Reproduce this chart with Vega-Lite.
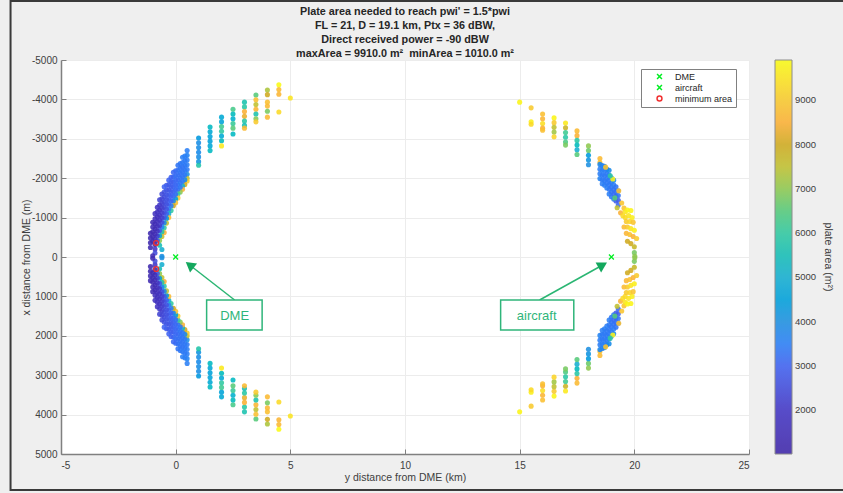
{"$schema":"https://vega.github.io/schema/vega-lite/v6.json","width":688,"height":394,"autosize":"none","padding":{"left":61,"top":60,"right":94,"bottom":39},"background":"#efefef",
"config":{"font":"Liberation Sans","view":{"fill":"white","stroke":null}},
"title":{"text":["Plate area needed to reach pwi' = 1.5*pwi","FL = 21, D = 19.1 km, Ptx = 36 dBW,"," Direct received power = -90 dBW","maxArea = 9910.0 m²\u00a0\u00a0minArea = 1010.0 m²"],"fontSize":10.8,"fontWeight":"bold","color":"#262626","lineHeight":14,"anchor":"middle","offset":-59,"font":"Liberation Sans"},
"datasets":{
"cloud":[
{"x":1,"y":-3020,"a":4200},{"x":1,"y":-2900,"a":3900},{"x":1,"y":-2780,"a":3900},{"x":1,"y":-2660,"a":3800},{"x":1,"y":-2540,"a":3900},{"x":1,"y":-2420,"a":4100},{"x":1,"y":-2330,"a":5800},
{"x":1.5,"y":-3300,"a":5300},{"x":1.5,"y":-3180,"a":4800},{"x":1.5,"y":-3060,"a":4600},{"x":1.5,"y":-2940,"a":4500},{"x":1.5,"y":-2820,"a":4700},{"x":1.5,"y":-2700,"a":5300},
{"x":2,"y":-3550,"a":4800},{"x":2,"y":-3430,"a":4600},{"x":2,"y":-3310,"a":6200},{"x":2,"y":-3190,"a":6000},{"x":2,"y":-3070,"a":4800},{"x":2,"y":-2950,"a":5400},{"x":2,"y":-2820,"a":9600},
{"x":2.5,"y":-3750,"a":6300},{"x":2.5,"y":-3630,"a":5400},{"x":2.5,"y":-3510,"a":5100},{"x":2.5,"y":-3390,"a":6100},{"x":2.5,"y":-3270,"a":6500},{"x":2.5,"y":-3120,"a":5300},
{"x":3,"y":-3930,"a":5700},{"x":3,"y":-3810,"a":5900},{"x":3,"y":-3690,"a":8500},{"x":3,"y":-3570,"a":8300},{"x":3,"y":-3450,"a":5900},{"x":3,"y":-3340,"a":5500},{"x":3,"y":-3270,"a":8700},
{"x":3.5,"y":-4110,"a":6500},{"x":3.5,"y":-3990,"a":8800},{"x":3.5,"y":-3870,"a":7500},{"x":3.5,"y":-3750,"a":8600},{"x":3.5,"y":-3630,"a":5700},{"x":3.5,"y":-3510,"a":6900},{"x":3.5,"y":-3430,"a":9000},
{"x":4,"y":-4240,"a":7300},{"x":4,"y":-4120,"a":8000},{"x":4,"y":-3930,"a":8800},{"x":4,"y":-3830,"a":8700},{"x":4,"y":-3700,"a":6800},{"x":4,"y":-3550,"a":8700},
{"x":4.5,"y":-4370,"a":9900},{"x":4.5,"y":-4250,"a":8700},{"x":4.5,"y":-4130,"a":8600},{"x":4.5,"y":-3680,"a":9300},{"x":5,"y":-4035,"a":9500},
{"x":1,"y":3020,"a":4200},{"x":1,"y":2900,"a":3900},{"x":1,"y":2780,"a":3900},{"x":1,"y":2660,"a":3800},{"x":1,"y":2540,"a":3900},{"x":1,"y":2420,"a":4100},{"x":1,"y":2330,"a":5800},
{"x":1.5,"y":3300,"a":5300},{"x":1.5,"y":3180,"a":4800},{"x":1.5,"y":3060,"a":4600},{"x":1.5,"y":2940,"a":4500},{"x":1.5,"y":2820,"a":4700},{"x":1.5,"y":2700,"a":5300},
{"x":2,"y":3550,"a":4800},{"x":2,"y":3430,"a":4600},{"x":2,"y":3310,"a":6200},{"x":2,"y":3190,"a":6000},{"x":2,"y":3070,"a":4800},{"x":2,"y":2950,"a":5400},{"x":2,"y":2820,"a":9600},
{"x":2.5,"y":3750,"a":6300},{"x":2.5,"y":3630,"a":5400},{"x":2.5,"y":3510,"a":5100},{"x":2.5,"y":3390,"a":6100},{"x":2.5,"y":3270,"a":6500},{"x":2.5,"y":3120,"a":5300},
{"x":3,"y":3930,"a":5700},{"x":3,"y":3810,"a":5900},{"x":3,"y":3690,"a":8500},{"x":3,"y":3570,"a":8300},{"x":3,"y":3450,"a":5900},{"x":3,"y":3340,"a":5500},{"x":3,"y":3270,"a":8700},
{"x":3.5,"y":4110,"a":6500},{"x":3.5,"y":3990,"a":8800},{"x":3.5,"y":3870,"a":7500},{"x":3.5,"y":3750,"a":8600},{"x":3.5,"y":3630,"a":5700},{"x":3.5,"y":3510,"a":6900},{"x":3.5,"y":3430,"a":9000},
{"x":4,"y":4240,"a":7300},{"x":4,"y":4120,"a":8000},{"x":4,"y":3930,"a":8800},{"x":4,"y":3830,"a":8700},{"x":4,"y":3700,"a":6800},{"x":4,"y":3550,"a":8700},
{"x":4.5,"y":4370,"a":9900},{"x":4.5,"y":4250,"a":8700},{"x":4.5,"y":4130,"a":8600},{"x":4.5,"y":3680,"a":9300},{"x":5,"y":4035,"a":9500},
{"x":0.5,"y":-2700,"a":3500},{"x":0.5,"y":-2580,"a":3600},{"x":0.5,"y":-2460,"a":3500},{"x":0.5,"y":-2340,"a":3500},{"x":0.5,"y":-2220,"a":3400},{"x":0.5,"y":-2100,"a":4000},{"x":0.5,"y":-2000,"a":7500},{"x":0.5,"y":-1930,"a":9000},
{"x":0.4,"y":-2560,"a":3500},{"x":0.4,"y":-2440,"a":3400},{"x":0.4,"y":-2320,"a":3400},{"x":0.4,"y":-2200,"a":3400},{"x":0.4,"y":-2080,"a":3400},{"x":0.4,"y":-1960,"a":3800},{"x":0.4,"y":-1840,"a":8000},
{"x":0.3,"y":-2530,"a":3500},{"x":0.3,"y":-2400,"a":3400},{"x":0.3,"y":-2280,"a":3300},{"x":0.3,"y":-2160,"a":3300},{"x":0.3,"y":-2040,"a":3300},{"x":0.3,"y":-1920,"a":3400},{"x":0.3,"y":-1800,"a":5000},{"x":0.3,"y":-1720,"a":8500},
{"x":0.2,"y":-2370,"a":3400},{"x":0.2,"y":-2250,"a":3300},{"x":0.2,"y":-2130,"a":3300},{"x":0.2,"y":-2010,"a":3300},{"x":0.2,"y":-1890,"a":3300},{"x":0.2,"y":-1770,"a":3400},{"x":0.2,"y":-1650,"a":7000},
{"x":0.1,"y":-2330,"a":3300},{"x":0.1,"y":-2200,"a":3300},{"x":0.1,"y":-2080,"a":3200},{"x":0.1,"y":-1960,"a":3200},{"x":0.1,"y":-1840,"a":3300},{"x":0.1,"y":-1720,"a":3300},{"x":0.1,"y":-1600,"a":6000},{"x":0.1,"y":-1500,"a":9000},
{"x":0,"y":-2190,"a":3200},{"x":0,"y":-2070,"a":3200},{"x":0,"y":-1950,"a":3100},{"x":0,"y":-1830,"a":3100},{"x":0,"y":-1710,"a":3100},{"x":0,"y":-1590,"a":3200},{"x":0,"y":-1470,"a":4500},{"x":0,"y":-1380,"a":8800},
{"x":-0.1,"y":-2150,"a":3100},{"x":-0.1,"y":-2030,"a":3200},{"x":-0.1,"y":-1900,"a":3100},{"x":-0.1,"y":-1780,"a":3100},{"x":-0.1,"y":-1660,"a":3100},{"x":-0.1,"y":-1540,"a":3200},{"x":-0.1,"y":-1420,"a":3800},{"x":-0.1,"y":-1300,"a":8000},
{"x":-0.2,"y":-2020,"a":3000},{"x":-0.2,"y":-1900,"a":2900},{"x":-0.2,"y":-1780,"a":2900},{"x":-0.2,"y":-1660,"a":2900},{"x":-0.2,"y":-1540,"a":3000},{"x":-0.2,"y":-1420,"a":3000},{"x":-0.2,"y":-1300,"a":3500},{"x":-0.2,"y":-1180,"a":6000},
{"x":-0.3,"y":-1950,"a":3000},{"x":-0.3,"y":-1830,"a":2900},{"x":-0.3,"y":-1700,"a":2800},{"x":-0.3,"y":-1580,"a":2900},{"x":-0.3,"y":-1460,"a":3000},{"x":-0.3,"y":-1340,"a":3100},{"x":-0.3,"y":-1220,"a":3500},{"x":-0.3,"y":-1100,"a":5000},{"x":-0.3,"y":-1000,"a":8700},
{"x":-0.4,"y":-1820,"a":2800},{"x":-0.4,"y":-1700,"a":2700},{"x":-0.4,"y":-1580,"a":2700},{"x":-0.4,"y":-1460,"a":2600},{"x":-0.4,"y":-1340,"a":2600},{"x":-0.4,"y":-1220,"a":2700},{"x":-0.4,"y":-1100,"a":3000},{"x":-0.4,"y":-980,"a":4200},{"x":-0.4,"y":-860,"a":7500},
{"x":-0.5,"y":-1780,"a":3000},{"x":-0.5,"y":-1650,"a":2700},{"x":-0.5,"y":-1520,"a":2600},{"x":-0.5,"y":-1390,"a":2600},{"x":-0.5,"y":-1260,"a":2500},{"x":-0.5,"y":-1130,"a":2600},{"x":-0.5,"y":-1000,"a":2700},{"x":-0.5,"y":-870,"a":3800},{"x":-0.5,"y":-740,"a":6000},{"x":-0.5,"y":-620,"a":8500},
{"x":-0.6,"y":-1600,"a":2500},{"x":-0.6,"y":-1480,"a":2400},{"x":-0.6,"y":-1360,"a":2300},{"x":-0.6,"y":-1240,"a":2200},{"x":-0.6,"y":-1120,"a":2200},{"x":-0.6,"y":-1000,"a":2200},{"x":-0.6,"y":-880,"a":2500},{"x":-0.6,"y":-760,"a":3600},{"x":-0.6,"y":-640,"a":5800},{"x":-0.6,"y":-520,"a":7500},
{"x":-0.7,"y":-1450,"a":2300},{"x":-0.7,"y":-1320,"a":2100},{"x":-0.7,"y":-1190,"a":2000},{"x":-0.7,"y":-1060,"a":2000},{"x":-0.7,"y":-930,"a":2000},{"x":-0.7,"y":-800,"a":2100},{"x":-0.7,"y":-670,"a":2800},{"x":-0.7,"y":-540,"a":4500},{"x":-0.7,"y":-420,"a":7000},{"x":-0.7,"y":-300,"a":5500},
{"x":-0.8,"y":-1260,"a":1900},{"x":-0.8,"y":-1140,"a":1800},{"x":-0.8,"y":-1020,"a":1700},{"x":-0.8,"y":-900,"a":1700},{"x":-0.8,"y":-780,"a":1700},{"x":-0.8,"y":-660,"a":1800},{"x":-0.8,"y":-540,"a":2200},{"x":-0.8,"y":-420,"a":2800},
{"x":-0.9,"y":-1100,"a":1800},{"x":-0.9,"y":-970,"a":1600},{"x":-0.9,"y":-840,"a":1500},{"x":-0.9,"y":-710,"a":1500},{"x":-0.9,"y":-580,"a":1500},{"x":-0.9,"y":-450,"a":1600},{"x":-0.9,"y":-320,"a":1010},{"x":-0.9,"y":-200,"a":2000},{"x":-0.9,"y":-100,"a":2500},
{"x":-1,"y":-880,"a":1400},{"x":-1,"y":-760,"a":1400},{"x":-1,"y":-640,"a":1300},{"x":-1,"y":-520,"a":1300},{"x":-1,"y":-400,"a":1200},
{"x":-1.1,"y":-600,"a":1300},{"x":-1.1,"y":-480,"a":1300},{"x":-1.1,"y":-360,"a":1200},{"x":-1.1,"y":-240,"a":1200},{"x":-1,"y":-30,"a":1400},{"x":-0.6,"y":-190,"a":5000},{"x":-0.6,"y":-20,"a":4000},
{"x":0.5,"y":2700,"a":3500},{"x":0.5,"y":2580,"a":3600},{"x":0.5,"y":2460,"a":3500},{"x":0.5,"y":2340,"a":3500},{"x":0.5,"y":2220,"a":3400},{"x":0.5,"y":2100,"a":4000},{"x":0.5,"y":2000,"a":7500},{"x":0.5,"y":1930,"a":9000},
{"x":0.4,"y":2560,"a":3500},{"x":0.4,"y":2440,"a":3400},{"x":0.4,"y":2320,"a":3400},{"x":0.4,"y":2200,"a":3400},{"x":0.4,"y":2080,"a":3400},{"x":0.4,"y":1960,"a":3800},{"x":0.4,"y":1840,"a":8000},
{"x":0.3,"y":2530,"a":3500},{"x":0.3,"y":2400,"a":3400},{"x":0.3,"y":2280,"a":3300},{"x":0.3,"y":2160,"a":3300},{"x":0.3,"y":2040,"a":3300},{"x":0.3,"y":1920,"a":3400},{"x":0.3,"y":1800,"a":5000},{"x":0.3,"y":1720,"a":8500},
{"x":0.2,"y":2370,"a":3400},{"x":0.2,"y":2250,"a":3300},{"x":0.2,"y":2130,"a":3300},{"x":0.2,"y":2010,"a":3300},{"x":0.2,"y":1890,"a":3300},{"x":0.2,"y":1770,"a":3400},{"x":0.2,"y":1650,"a":7000},
{"x":0.1,"y":2330,"a":3300},{"x":0.1,"y":2200,"a":3300},{"x":0.1,"y":2080,"a":3200},{"x":0.1,"y":1960,"a":3200},{"x":0.1,"y":1840,"a":3300},{"x":0.1,"y":1720,"a":3300},{"x":0.1,"y":1600,"a":6000},{"x":0.1,"y":1500,"a":9000},
{"x":0,"y":2190,"a":3200},{"x":0,"y":2070,"a":3200},{"x":0,"y":1950,"a":3100},{"x":0,"y":1830,"a":3100},{"x":0,"y":1710,"a":3100},{"x":0,"y":1590,"a":3200},{"x":0,"y":1470,"a":4500},{"x":0,"y":1380,"a":8800},
{"x":-0.1,"y":2150,"a":3100},{"x":-0.1,"y":2030,"a":3200},{"x":-0.1,"y":1900,"a":3100},{"x":-0.1,"y":1780,"a":3100},{"x":-0.1,"y":1660,"a":3100},{"x":-0.1,"y":1540,"a":3200},{"x":-0.1,"y":1420,"a":3800},{"x":-0.1,"y":1300,"a":8000},
{"x":-0.2,"y":2020,"a":3000},{"x":-0.2,"y":1900,"a":2900},{"x":-0.2,"y":1780,"a":2900},{"x":-0.2,"y":1660,"a":2900},{"x":-0.2,"y":1540,"a":3000},{"x":-0.2,"y":1420,"a":3000},{"x":-0.2,"y":1300,"a":3500},{"x":-0.2,"y":1180,"a":6000},
{"x":-0.3,"y":1950,"a":3000},{"x":-0.3,"y":1830,"a":2900},{"x":-0.3,"y":1700,"a":2800},{"x":-0.3,"y":1580,"a":2900},{"x":-0.3,"y":1460,"a":3000},{"x":-0.3,"y":1340,"a":3100},{"x":-0.3,"y":1220,"a":3500},{"x":-0.3,"y":1100,"a":5000},{"x":-0.3,"y":1000,"a":8700},
{"x":-0.4,"y":1820,"a":2800},{"x":-0.4,"y":1700,"a":2700},{"x":-0.4,"y":1580,"a":2700},{"x":-0.4,"y":1460,"a":2600},{"x":-0.4,"y":1340,"a":2600},{"x":-0.4,"y":1220,"a":2700},{"x":-0.4,"y":1100,"a":3000},{"x":-0.4,"y":980,"a":4200},{"x":-0.4,"y":860,"a":7500},
{"x":-0.5,"y":1780,"a":3000},{"x":-0.5,"y":1650,"a":2700},{"x":-0.5,"y":1520,"a":2600},{"x":-0.5,"y":1390,"a":2600},{"x":-0.5,"y":1260,"a":2500},{"x":-0.5,"y":1130,"a":2600},{"x":-0.5,"y":1000,"a":2700},{"x":-0.5,"y":870,"a":3800},{"x":-0.5,"y":740,"a":6000},{"x":-0.5,"y":620,"a":8500},
{"x":-0.6,"y":1600,"a":2500},{"x":-0.6,"y":1480,"a":2400},{"x":-0.6,"y":1360,"a":2300},{"x":-0.6,"y":1240,"a":2200},{"x":-0.6,"y":1120,"a":2200},{"x":-0.6,"y":1000,"a":2200},{"x":-0.6,"y":880,"a":2500},{"x":-0.6,"y":760,"a":3600},{"x":-0.6,"y":640,"a":5800},{"x":-0.6,"y":520,"a":7500},
{"x":-0.7,"y":1450,"a":2300},{"x":-0.7,"y":1320,"a":2100},{"x":-0.7,"y":1190,"a":2000},{"x":-0.7,"y":1060,"a":2000},{"x":-0.7,"y":930,"a":2000},{"x":-0.7,"y":800,"a":2100},{"x":-0.7,"y":670,"a":2800},{"x":-0.7,"y":540,"a":4500},{"x":-0.7,"y":420,"a":7000},{"x":-0.7,"y":300,"a":5500},
{"x":-0.8,"y":1260,"a":1900},{"x":-0.8,"y":1140,"a":1800},{"x":-0.8,"y":1020,"a":1700},{"x":-0.8,"y":900,"a":1700},{"x":-0.8,"y":780,"a":1700},{"x":-0.8,"y":660,"a":1800},{"x":-0.8,"y":540,"a":2200},{"x":-0.8,"y":420,"a":2800},
{"x":-0.9,"y":1100,"a":1800},{"x":-0.9,"y":970,"a":1600},{"x":-0.9,"y":840,"a":1500},{"x":-0.9,"y":710,"a":1500},{"x":-0.9,"y":580,"a":1500},{"x":-0.9,"y":450,"a":1600},{"x":-0.9,"y":320,"a":1010},{"x":-0.9,"y":200,"a":2000},{"x":-0.9,"y":100,"a":2500},
{"x":-1,"y":880,"a":1400},{"x":-1,"y":760,"a":1400},{"x":-1,"y":640,"a":1300},{"x":-1,"y":520,"a":1300},{"x":-1,"y":400,"a":1200},
{"x":-1.1,"y":600,"a":1300},{"x":-1.1,"y":480,"a":1300},{"x":-1.1,"y":360,"a":1200},{"x":-1.1,"y":240,"a":1200},{"x":-1,"y":30,"a":1400},{"x":-0.6,"y":190,"a":5000},{"x":-0.6,"y":20,"a":4000},
{"x":15,"y":-3930,"a":9800},{"x":15.5,"y":-3785,"a":9000},{"x":15.5,"y":-3430,"a":9700},{"x":15.5,"y":-3370,"a":9300},
{"x":16,"y":-3630,"a":8800},{"x":16,"y":-3510,"a":8600},{"x":16,"y":-3390,"a":9400},{"x":16,"y":-3270,"a":8500},{"x":16,"y":-3220,"a":8800},
{"x":16.5,"y":-3530,"a":9800},{"x":16.5,"y":-3410,"a":9000},{"x":16.5,"y":-3290,"a":7500},{"x":16.5,"y":-3170,"a":7200},{"x":16.5,"y":-3050,"a":9200},
{"x":17,"y":-3400,"a":9600},{"x":17,"y":-3280,"a":7800},{"x":17,"y":-3160,"a":6200},{"x":17,"y":-3040,"a":5900},{"x":17,"y":-2920,"a":6400},{"x":17,"y":-2840,"a":6800},
{"x":17.5,"y":-3200,"a":8700},{"x":17.5,"y":-3080,"a":8500},{"x":17.5,"y":-2960,"a":5900},{"x":17.5,"y":-2840,"a":5400},{"x":17.5,"y":-2720,"a":5000},{"x":17.5,"y":-2600,"a":6500},
{"x":18,"y":-2820,"a":7000},{"x":18,"y":-2700,"a":6700},{"x":18,"y":-2580,"a":4300},{"x":18,"y":-2460,"a":4100},{"x":18,"y":-2340,"a":4000},
{"x":18.5,"y":-2500,"a":8700},{"x":18.5,"y":-2400,"a":8800},
{"x":15,"y":3930,"a":9800},{"x":15.5,"y":3785,"a":9000},{"x":15.5,"y":3430,"a":9700},{"x":15.5,"y":3370,"a":9300},
{"x":16,"y":3630,"a":8800},{"x":16,"y":3510,"a":8600},{"x":16,"y":3390,"a":9400},{"x":16,"y":3270,"a":8500},{"x":16,"y":3220,"a":8800},
{"x":16.5,"y":3530,"a":9800},{"x":16.5,"y":3410,"a":9000},{"x":16.5,"y":3290,"a":7500},{"x":16.5,"y":3170,"a":7200},{"x":16.5,"y":3050,"a":9200},
{"x":17,"y":3400,"a":9600},{"x":17,"y":3280,"a":7800},{"x":17,"y":3160,"a":6200},{"x":17,"y":3040,"a":5900},{"x":17,"y":2920,"a":6400},{"x":17,"y":2840,"a":6800},
{"x":17.5,"y":3200,"a":8700},{"x":17.5,"y":3080,"a":8500},{"x":17.5,"y":2960,"a":5900},{"x":17.5,"y":2840,"a":5400},{"x":17.5,"y":2720,"a":5000},{"x":17.5,"y":2600,"a":6500},
{"x":18,"y":2820,"a":7000},{"x":18,"y":2700,"a":6700},{"x":18,"y":2580,"a":4300},{"x":18,"y":2460,"a":4100},{"x":18,"y":2340,"a":4000},
{"x":18.5,"y":2500,"a":8700},{"x":18.5,"y":2400,"a":8800},
{"x":18.5,"y":-2350,"a":3700},{"x":18.5,"y":-2230,"a":3500},{"x":18.5,"y":-2110,"a":3500},{"x":18.5,"y":-1990,"a":3600},
{"x":18.6,"y":-2320,"a":3600},{"x":18.6,"y":-2200,"a":3500},{"x":18.6,"y":-2080,"a":3400},{"x":18.6,"y":-1960,"a":3400},{"x":18.6,"y":-1860,"a":3500},
{"x":18.7,"y":-2300,"a":3600},{"x":18.7,"y":-2180,"a":3500},{"x":18.7,"y":-2060,"a":3400},{"x":18.7,"y":-1940,"a":3400},{"x":18.7,"y":-1820,"a":3500},
{"x":18.8,"y":-2230,"a":3500},{"x":18.8,"y":-2110,"a":3400},{"x":18.8,"y":-1990,"a":3400},{"x":18.8,"y":-1870,"a":3400},{"x":18.8,"y":-1750,"a":3500},
{"x":18.9,"y":-2200,"a":3800},{"x":18.9,"y":-2080,"a":3500},{"x":18.9,"y":-1960,"a":3400},{"x":18.9,"y":-1840,"a":3400},{"x":18.9,"y":-1720,"a":3400},{"x":18.9,"y":-1600,"a":3500},
{"x":19,"y":-2010,"a":3500},{"x":19,"y":-1890,"a":3400},{"x":19,"y":-1770,"a":3300},{"x":19,"y":-1650,"a":3300},{"x":19,"y":-1530,"a":3400},
{"x":19.1,"y":-1950,"a":3700},{"x":19.1,"y":-1830,"a":3500},{"x":19.1,"y":-1710,"a":3300},{"x":19.1,"y":-1590,"a":3200},{"x":19.1,"y":-1470,"a":3500},
{"x":19.2,"y":-1780,"a":3300},{"x":19.2,"y":-1660,"a":3200},{"x":19.2,"y":-1540,"a":3000},{"x":19.2,"y":-1420,"a":2900},
{"x":19.3,"y":-1680,"a":3500},{"x":19.3,"y":-1560,"a":3300},{"x":19.3,"y":-1440,"a":2900},{"x":19.3,"y":-1320,"a":3100},
{"x":18.75,"y":-2280,"a":8900},{"x":19.06,"y":-1980,"a":9800},{"x":18.95,"y":-2060,"a":6000},{"x":19.32,"y":-1680,"a":8800},{"x":19.15,"y":-1500,"a":6500},{"x":19.45,"y":-1370,"a":8900},{"x":19.25,"y":-1250,"a":7500},{"x":19.4,"y":-1120,"a":8500},{"x":19.55,"y":-1240,"a":8900},
{"x":19.5,"y":-1050,"a":9300},{"x":19.6,"y":-1150,"a":9500},{"x":19.7,"y":-1190,"a":9800},{"x":19.85,"y":-1180,"a":9800},{"x":19.6,"y":-1000,"a":9300},{"x":19.75,"y":-1050,"a":9500},{"x":19.9,"y":-1000,"a":9700},{"x":19.65,"y":-900,"a":9000},{"x":19.8,"y":-900,"a":9200},{"x":19.95,"y":-880,"a":8900},
{"x":19.55,"y":-760,"a":8700},{"x":19.7,"y":-760,"a":9000},{"x":19.85,"y":-720,"a":9500},{"x":20,"y":-680,"a":9700},{"x":19.65,"y":-600,"a":8600},{"x":19.8,"y":-570,"a":8800},{"x":19.95,"y":-520,"a":8500},{"x":20.1,"y":-470,"a":9000},
{"x":19.7,"y":-400,"a":8000},{"x":19.85,"y":-340,"a":8000},{"x":20,"y":-260,"a":7700},{"x":20,"y":-110,"a":6800},{"x":20.02,"y":-20,"a":7000},
{"x":18.5,"y":2350,"a":3700},{"x":18.5,"y":2230,"a":3500},{"x":18.5,"y":2110,"a":3500},{"x":18.5,"y":1990,"a":3600},
{"x":18.6,"y":2320,"a":3600},{"x":18.6,"y":2200,"a":3500},{"x":18.6,"y":2080,"a":3400},{"x":18.6,"y":1960,"a":3400},{"x":18.6,"y":1860,"a":3500},
{"x":18.7,"y":2300,"a":3600},{"x":18.7,"y":2180,"a":3500},{"x":18.7,"y":2060,"a":3400},{"x":18.7,"y":1940,"a":3400},{"x":18.7,"y":1820,"a":3500},
{"x":18.8,"y":2230,"a":3500},{"x":18.8,"y":2110,"a":3400},{"x":18.8,"y":1990,"a":3400},{"x":18.8,"y":1870,"a":3400},{"x":18.8,"y":1750,"a":3500},
{"x":18.9,"y":2200,"a":3800},{"x":18.9,"y":2080,"a":3500},{"x":18.9,"y":1960,"a":3400},{"x":18.9,"y":1840,"a":3400},{"x":18.9,"y":1720,"a":3400},{"x":18.9,"y":1600,"a":3500},
{"x":19,"y":2010,"a":3500},{"x":19,"y":1890,"a":3400},{"x":19,"y":1770,"a":3300},{"x":19,"y":1650,"a":3300},{"x":19,"y":1530,"a":3400},
{"x":19.1,"y":1950,"a":3700},{"x":19.1,"y":1830,"a":3500},{"x":19.1,"y":1710,"a":3300},{"x":19.1,"y":1590,"a":3200},{"x":19.1,"y":1470,"a":3500},
{"x":19.2,"y":1780,"a":3300},{"x":19.2,"y":1660,"a":3200},{"x":19.2,"y":1540,"a":3000},{"x":19.2,"y":1420,"a":2900},
{"x":19.3,"y":1680,"a":3500},{"x":19.3,"y":1560,"a":3300},{"x":19.3,"y":1440,"a":2900},{"x":19.3,"y":1320,"a":3100},
{"x":18.75,"y":2280,"a":8900},{"x":19.06,"y":1980,"a":9800},{"x":18.95,"y":2060,"a":6000},{"x":19.32,"y":1680,"a":8800},{"x":19.15,"y":1500,"a":6500},{"x":19.45,"y":1370,"a":8900},{"x":19.25,"y":1250,"a":7500},{"x":19.4,"y":1120,"a":8500},{"x":19.55,"y":1240,"a":8900},
{"x":19.5,"y":1050,"a":9300},{"x":19.6,"y":1150,"a":9500},{"x":19.7,"y":1190,"a":9800},{"x":19.85,"y":1180,"a":9800},{"x":19.6,"y":1000,"a":9300},{"x":19.75,"y":1050,"a":9500},{"x":19.9,"y":1000,"a":9700},{"x":19.65,"y":900,"a":9000},{"x":19.8,"y":900,"a":9200},{"x":19.95,"y":880,"a":8900},
{"x":19.55,"y":760,"a":8700},{"x":19.7,"y":760,"a":9000},{"x":19.85,"y":720,"a":9500},{"x":20,"y":680,"a":9700},{"x":19.65,"y":600,"a":8600},{"x":19.8,"y":570,"a":8800},{"x":19.95,"y":520,"a":8500},{"x":20.1,"y":470,"a":9000},
{"x":19.7,"y":400,"a":8000},{"x":19.85,"y":340,"a":8000},{"x":20,"y":260,"a":7700},{"x":20,"y":110,"a":6800},{"x":20.02,"y":20,"a":7000}
],
"markers":[{"x":0,"y":0,"item":"DME"},{"x":19,"y":0,"item":"aircraft"},{"x":-0.85,"y":-355,"item":"minimum area"},{"x":-0.85,"y":305,"item":"minimum area"}],
"boxes":[{"x":1.35,"x2":3.77,"y":1091,"y2":1853,"cx":2.57,"cy":1497,"label":"DME"},{"x":14.17,"x2":17.36,"y":1091,"y2":1853,"cx":15.74,"cy":1497,"label":"aircraft"}],
"arrows":[{"x":2.57,"y":1091,"x2":0.61,"y2":203,"heading":308},{"x":15.87,"y":1091,"x2":18.62,"y2":203,"heading":61}],
"frame":[{"x":-7.2,"x2":30,"y":-6497,"y2":5914}]
},
"layer":[
{"data":{"name":"frame"},"mark":{"type":"rect","fill":null,"stroke":"#3a3a3a","strokeWidth":2,"clip":false},
"encoding":{"x":{"field":"x","type":"quantitative","scale":{"domain":[-5,25],"nice":false},"axis":{"values":[-5,0,5,10,15,20,25],"tickCount":7,"format":"d","labelExpr":"datum.value","labelOverlap":false,"title":"y distance from DME (km)","grid":true,"gridColor":"#ececec","tickSize":-5,"tickColor":"#808080","domainColor":"#808080","domainWidth":1.5,"labelColor":"#404040","labelFontSize":10,"titleColor":"#404040","titleFontSize":10.5,"titleFontWeight":"normal","labelPadding":11,"titlePadding":2}},"x2":{"field":"x2"},
"y":{"field":"y","type":"quantitative","scale":{"domain":[-5000,5000],"reverse":true,"nice":false},"axis":{"values":[-5000,-4000,-3000,-2000,-1000,0,1000,2000,3000,4000,5000],"tickCount":11,"format":"d","labelExpr":"datum.value","labelOverlap":false,"title":"x distance from DME (m)","grid":true,"gridColor":"#ececec","tickSize":-5,"tickColor":"#808080","domainColor":"#808080","domainWidth":1.5,"labelColor":"#404040","labelFontSize":10,"titleColor":"#404040","titleFontSize":10.5,"titleFontWeight":"normal","labelPadding":9,"titlePadding":0}},"y2":{"field":"y2"}}},
{"data":{"name":"cloud"},"mark":{"type":"point","filled":true,"size":26,"opacity":0.88,"shape":"circle"},
"encoding":{"x":{"field":"x","type":"quantitative"},"y":{"field":"y","type":"quantitative"},
"color":{"field":"a","type":"quantitative","title":"plate area (m²)","scale":{"domain":[1010,2000,3000,3500,4000,5000,5500,6000,6500,7000,7500,8000,8500,9000,9910],"range":["#3e26a8","#4336c4","#3f62f0","#2b7ff5","#1e90e0","#15aed0","#15bdb5","#30c8a0","#55c97a","#8ec850","#c0c030","#cfaa20","#fbb035","#f8c92e","#f9fb15"]},
"legend":{"orient":"none","legendX":714,"legendY":0,"gradientLength":394,"gradientThickness":17,"direction":"vertical","values":[2000,3000,4000,5000,6000,7000,8000,9000],"format":"d","labelFontSize":9.5,"labelColor":"#404040","titleOrient":"right","titleAngle":270,"titleFontSize":10.5,"titleFontWeight":"normal","titleColor":"#404040","titleAnchor":"middle","titleBaseline":"middle","titlePadding":12,"gradientStrokeColor":"#808080","gradientStrokeWidth":1,"labelOffset":3}}}},
{"data":{"name":"arrows"},"mark":{"type":"rule","color":"#2bb673","strokeWidth":1.5},"encoding":{"x":{"field":"x","type":"quantitative"},"y":{"field":"y","type":"quantitative"},"x2":{"field":"x2"},"y2":{"field":"y2"}}},
{"data":{"name":"arrows"},"mark":{"type":"point","shape":"triangle-up","filled":true,"size":130,"color":"#14a85e","opacity":1},"encoding":{"x":{"field":"x2","type":"quantitative"},"y":{"field":"y2","type":"quantitative"},"angle":{"field":"heading","type":"quantitative","scale":null}}},
{"data":{"name":"boxes"},"mark":{"type":"rect","fill":"white","stroke":"#2fb57a","strokeWidth":1.5},"encoding":{"x":{"field":"x","type":"quantitative"},"x2":{"field":"x2"},"y":{"field":"y","type":"quantitative"},"y2":{"field":"y2"}}},
{"data":{"name":"boxes"},"mark":{"type":"text","color":"#2fb57a","fontSize":13,"align":"center","baseline":"middle"},"encoding":{"x":{"field":"cx","type":"quantitative"},"y":{"field":"cy","type":"quantitative"},"text":{"field":"label"}}},
{"data":{"name":"markers"},"mark":{"type":"point","filled":false,"size":24,"strokeWidth":1.3,"opacity":1},
"encoding":{"x":{"field":"x","type":"quantitative"},"y":{"field":"y","type":"quantitative"},
"shape":{"field":"item","type":"nominal","scale":{"domain":["DME","aircraft","minimum area"],"range":["M-1,-1L1,1M-1,1L1,-1","M-1,-1L1,1M-1,1L1,-1","circle"]},"legend":{"orient":"none","legendX":580,"legendY":9,"title":null,"fillColor":"white","strokeColor":"#808080","padding":3,"labelFontSize":9,"labelColor":"#262626","rowPadding":0,"symbolSize":24,"symbolStrokeWidth":1.5,"symbolOffset":11,"labelOffset":11,"columnPadding":4}},
"stroke":{"field":"item","type":"nominal","scale":{"domain":["DME","aircraft","minimum area"],"range":["#00ee22","#00ee22","#f03030"]},"legend":{"orient":"none","legendX":580,"legendY":9,"title":null,"fillColor":"white","strokeColor":"#808080","padding":3,"labelFontSize":9,"labelColor":"#262626","rowPadding":0,"symbolSize":24,"symbolStrokeWidth":1.5,"symbolOffset":11,"labelOffset":11,"columnPadding":4}}}}
]}
